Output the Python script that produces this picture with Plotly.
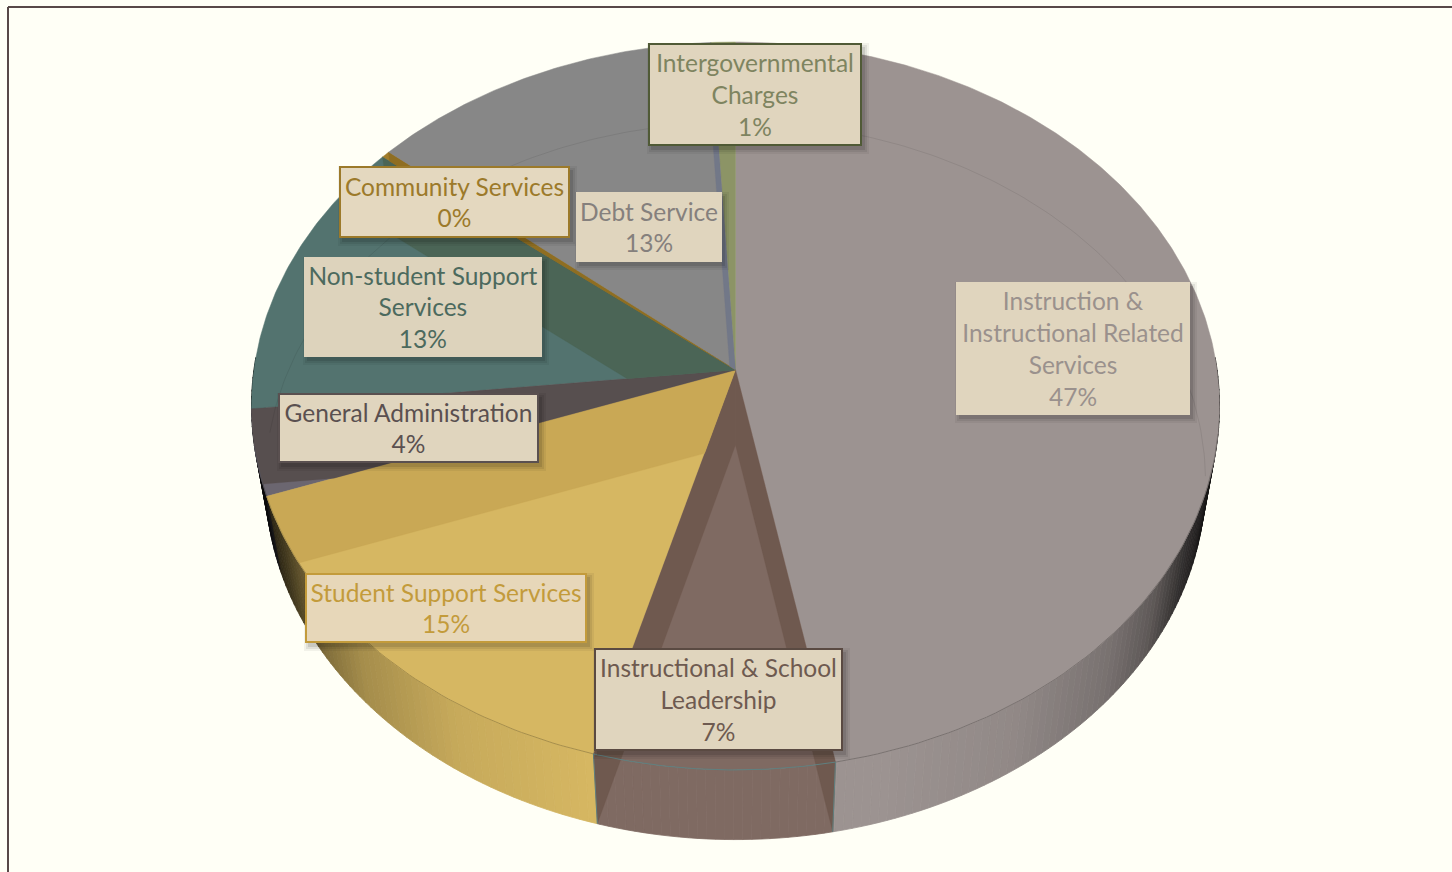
import numpy as np
import plotly.graph_objects as go

# ---- data ----
categories = ["Instruction & Instructional Related Services", "Instructional & School Leadership",
              "Student Support Services", "General Administration", "Non-student Support Services",
              "Community Services", "Debt Service", "Intergovernmental Charges"]
shares = [47.0, 7.3, 15.2, 3.8, 12.5, 0.3, 13.0, 0.9]
label_text = ["Instruction &<br>Instructional Related<br>Services<br>47%",
              "Instructional & School<br>Leadership<br>7%",
              "Student Support Services<br>15%",
              "General Administration<br>4%",
              "Non-student Support<br>Services<br>13%",
              "Community Services<br>0%",
              "Debt Service<br>13%",
              "Intergovernmental<br>Charges<br>1%"]
face_colors = ["#9C9391", "#7F6A62", "#D6B762", "#6B6670", "#53736F", "#A07C2A", "#878787", "#8C9466"]
wall_colors = ["#9C9391", "#6F594F", "#C9A855", "#574F4F", "#4B6556", "#8F6E22", "#727888", "#8C9466"]
text_colors = ["#9A918D", "#6E5A50", "#C39B3B", "#5A5050", "#4C6A5E", "#9C7A2A", "#85807D", "#7E8460"]
border_colors = [None, "#5A4A42", "#C39B3B", "#5A5050", None, "#9C7A2A", None, "#505A36"]
label_fills = ["#E0D5BE", "#E0D5BE", "#E7D7B9", "#E0D5BE", "#DDD3BC", "#E4D8BF", "#E0D5BE", "#E0D5BE"]
# label boxes: left, top, right, bottom in page pixels
label_boxes = [(956, 282, 1190, 415), (594, 648, 843, 751), (305, 573, 587, 643), (278, 393, 539, 463),
               (304, 257, 542, 357), (339, 166, 570, 238), (576, 192, 722, 262), (648, 43, 862, 146)]

# ---- projection of the tilted disc onto page pixels ----
CX = 735.5
TOP = dict(y0=370.0, a=481.6, b=360.4, k=0.0989)
BOT = dict(y0=445.0, a=467.6, b=355.0, k=0.1003)


def proj(deg, d):
    t = np.radians(deg)
    w = 1 + d["k"] * np.cos(t)
    return CX + d["a"] * np.sin(t) / w, d["y0"] - d["b"] * np.cos(t) / w


def shade_of(x):
    n = abs(x - CX) / 484.0
    return float(np.interp(n, [0, 0.3, 0.58, 0.78, 0.87, 0.94, 1.0], [1, 1, 0.93, 0.77, 0.6, 0.3, 0.1]))


def dim(hex_color, f):
    r, g, b = (int(hex_color[i:i + 2], 16) for i in (1, 3, 5))
    return f"rgb({r * f:.0f},{g * f:.0f},{b * f:.0f})"


def clip_halfplane(pts, px, py, nx, ny):
    """Keep the part of a polygon where (p - origin) . n >= 0."""
    out = []
    for i in range(len(pts)):
        a, b = pts[i], pts[(i + 1) % len(pts)]
        da = (a[0] - px) * nx + (a[1] - py) * ny
        db = (b[0] - px) * nx + (b[1] - py) * ny
        if da >= 0:
            out.append(a)
        if da * db < 0:
            s = da / (da - db)
            out.append((a[0] + s * (b[0] - a[0]), a[1] + s * (b[1] - a[1])))
    return out


def band_on_face(deg):
    """Wall band that stops at the rim of the top face: apex, rim arc, shifted apex."""
    xt, yt = proj(deg, TOP)
    dx, dy = xt - CX, yt - TOP["y0"]
    scan = np.arange(deg, deg - 60, -0.25)
    sx, sy = proj(scan, TOP)
    side = (sx - CX) * (-dy) + (sy - BOT["y0"]) * dx
    stop = scan[np.argmax(side * side[0] < 0)]
    arc = np.arange(deg, stop - 0.25, -0.25)
    ax, ay = proj(arc, TOP)
    return [(CX, TOP["y0"])] + list(zip(ax, ay)) + [(CX, BOT["y0"])]


fig = go.Figure()


def poly(xs, ys, color, name, line=None, width=0.8):
    fig.add_trace(go.Scatter(x=list(xs), y=list(ys), mode="lines", fill="toself", fillcolor=color,
                             line=dict(color=line or color, width=width), name=name,
                             hoverinfo="name", showlegend=False))


edges = np.concatenate([[0], np.cumsum(shares)]) * 3.6
edges[-1] = 360.0

# side walls (behind the faces)
FRONT0, FRONT1 = 88.0, 272.0
for i, name in enumerate(categories):
    a0, a1 = max(edges[i], FRONT0), min(edges[i + 1], FRONT1)
    if a1 <= a0:
        continue
    cuts = np.arange(a0, a1, 1.0).tolist() + [a1]
    for p, q in zip(cuts[:-1], cuts[1:]):
        xt1, yt1 = proj(p, TOP)
        xt2, yt2 = proj(q, TOP)
        xb1, yb1 = proj(p, BOT)
        xb2, yb2 = proj(q, BOT)
        c = dim(face_colors[i], shade_of((xt1 + xt2) / 2))
        poly([xt1, xt2, xb2, xb1, xt1], [yt1, yt2, yb2, yb1, yt1], c, name)

# top faces
for i, name in enumerate(categories):
    th = np.linspace(edges[i], edges[i + 1], max(3, int((edges[i + 1] - edges[i]) * 2)))
    x, y = proj(th, TOP)
    poly(np.r_[CX, x, CX], np.r_[TOP["y0"], y, TOP["y0"]], face_colors[i], name, width=0.5)

# inner walls seen through the translucent top, kept inside their own slice
for i, name in enumerate(categories):
    xs0, ys0 = proj(edges[i], TOP)
    xs1, ys1 = proj(edges[i + 1], TOP)
    for deg, seen in ((edges[i], 0 < edges[i] < 180), (edges[i + 1], 180 < edges[i + 1] < 360)):
        if not seen:
            continue
        if 200 < deg < 270:
            pts = band_on_face(deg)
        else:
            xt, yt = proj(deg, TOP)
            xb, yb = proj(deg, BOT)
            pts = [(CX, TOP["y0"]), (xt, yt), (xb, yb), (CX, BOT["y0"])]
        # page y grows downward, so the clockwise side of a ray (dx, dy) lies along (-dy, dx)
        pts = clip_halfplane(pts, CX, TOP["y0"], -(ys0 - TOP["y0"]), xs0 - CX)
        pts = clip_halfplane(pts, CX, TOP["y0"], ys1 - TOP["y0"], -(xs1 - CX))
        if len(pts) >= 3:
            pts = pts + [pts[0]]
            poly([p[0] for p in pts], [p[1] for p in pts], wall_colors[i], name, width=0.3)

# rims and edges
for i, name in enumerate(categories):
    a0, a1 = max(edges[i], 100), min(edges[i + 1], 258)
    if a1 > a0:
        x, y = proj(np.linspace(a0, a1, 60), TOP)
        col = "#5F8080" if i == 1 else dim(face_colors[i], 0.78)
        fig.add_trace(go.Scatter(x=x, y=y, mode="lines", line=dict(color=col, width=1), name=name,
                                 hoverinfo="skip", showlegend=False))
for deg in (edges[1], edges[2]):
    xt, yt = proj(deg, TOP)
    xb, yb = proj(deg, BOT)
    fig.add_trace(go.Scatter(x=[xt, xb], y=[yt, yb], mode="lines", line=dict(color="#5F8080", width=1),
                             hoverinfo="skip", showlegend=False))
x, y = proj(np.linspace(272, 455, 200), BOT)
fig.add_trace(go.Scatter(x=x, y=y, mode="lines", line=dict(color="rgba(0,0,0,0.08)", width=1),
                         hoverinfo="skip", showlegend=False))

# frame and label shadows
shapes = [dict(type="line", x0=8, y0=7, x1=1452, y1=7, line=dict(color="#584848", width=2)),
          dict(type="line", x0=8, y0=7, x1=8, y1=872, line=dict(color="#584848", width=2))]
for (l, t, r, b) in label_boxes:
    for grow, op in ((4, 0.05), (2, 0.07), (0, 0.10)):
        shapes.append(dict(type="rect", x0=l + 3 - grow, x1=r + 3 + grow, y0=t + 4 - grow, y1=b + 4 + grow,
                           fillcolor="#000000", opacity=op, line=dict(width=0)))

annotations = []
for text, box, tc, bc, fc in zip(label_text, label_boxes, text_colors, border_colors, label_fills):
    l, t, r, b = box
    bw = 2 if bc else 0
    annotations.append(dict(x=(l + r) / 2, y=(t + b) / 2, xref="x", yref="y", text=text, showarrow=False,
                            xanchor="center", yanchor="middle", align="center", valign="middle",
                            width=r - l - 2 * bw, height=b - t - 2 * bw, borderpad=0, borderwidth=bw,
                            bordercolor=bc or "rgba(0,0,0,0)", bgcolor=fc,
                            font=dict(family="Lato", size=24.5, color=tc)))

fig.update_layout(width=1452, height=872, margin=dict(l=0, r=0, t=0, b=0), paper_bgcolor="#FFFFF6",
                  plot_bgcolor="#FFFFF6", showlegend=False, shapes=shapes, annotations=annotations,
                  xaxis=dict(range=[0, 1452], visible=False, fixedrange=True),
                  yaxis=dict(range=[872, 0], visible=False, fixedrange=True))
fig.write_html("out.html", config=dict(displayModeBar=False),
               post_script="document.body.style.margin='0';document.body.style.overflow='hidden';")
